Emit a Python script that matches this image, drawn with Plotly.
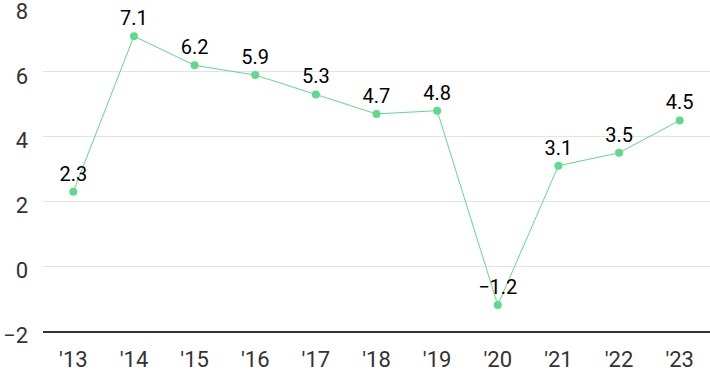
import plotly.graph_objects as go

years = ["'13", "'14", "'15", "'16", "'17", "'18", "'19", "'20", "'21", "'22", "'23"]
values = [2.3, 7.1, 6.2, 5.9, 5.3, 4.7, 4.8, -1.2, 3.1, 3.5, 4.5]
labels = [f"{v:.1f}".replace("-", "\u2212") for v in values]
y_ticks = [-2, 0, 2, 4, 6, 8]

fig = go.Figure(go.Scatter(
    x=list(range(len(years))), y=values, mode="lines+markers+text",
    text=labels, textposition="top center",
    textfont=dict(family="Roboto", size=20, color="#000000"),
    line=dict(color="#5fd98c", width=1),
    marker=dict(color="#5fd98c", size=8),
    cliponaxis=False,
))
fig.update_layout(
    width=710, height=371,
    margin=dict(l=43, r=0, t=7, b=40),
    plot_bgcolor="white", paper_bgcolor="white",
    showlegend=False,
    font=dict(family="Roboto", size=22, color="#333333"),
)
fig.update_xaxes(
    tickvals=list(range(len(years))), ticktext=years,
    range=[-0.5, 10.5], showgrid=False, zeroline=False,
    showline=True, linecolor="#333333", linewidth=1.5,
    ticks="", tickfont=dict(size=22, color="#333333"),
    ticklabelstandoff=8, ticklabeloverflow="allow", automargin=False,
)
fig.update_yaxes(
    range=[-2, 8], tickvals=y_ticks, showgrid=True, gridcolor="#e3e3e3",
    zeroline=False, ticks="", tickfont=dict(size=22, color="#333333"),
    ticklabelstandoff=14, ticklabelshift=4, ticklabeloverflow="allow",
    automargin=False,
)
fig.write_html(
    "out.html",
    config={"displayModeBar": False},
    post_script="document.body.style.margin='0';document.body.style.padding='0';document.body.style.overflow='hidden';",
)
